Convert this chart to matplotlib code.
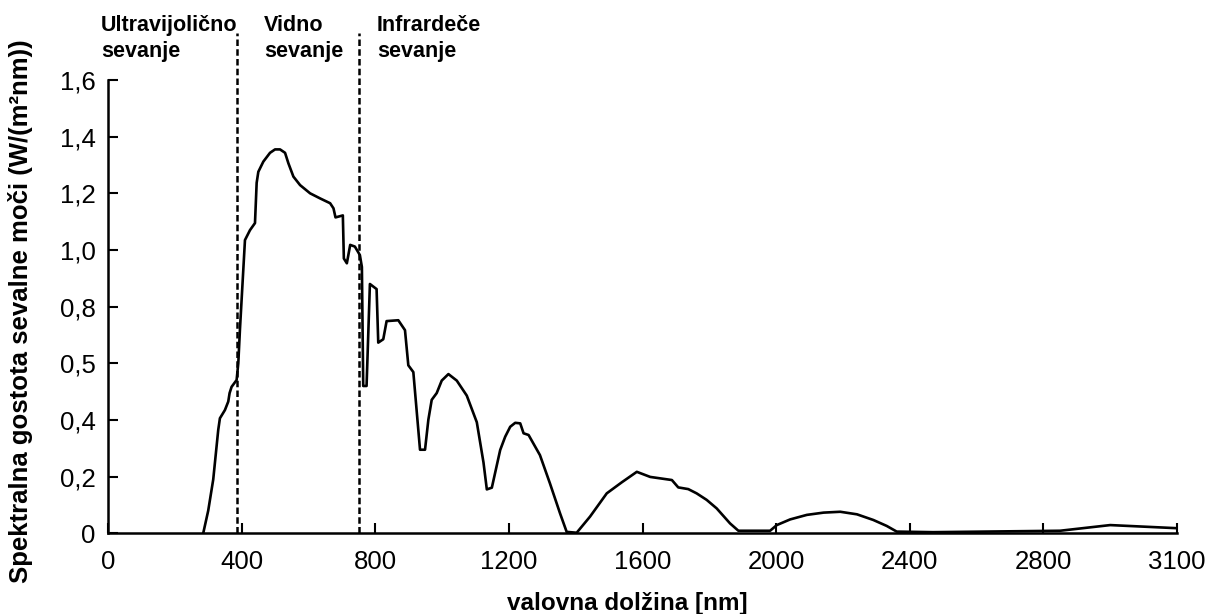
import matplotlib
matplotlib.use("Agg")
import matplotlib.pyplot as plt

plt.rcParams['font.family'] = ['Liberation Sans', 'DejaVu Sans']

# wavelength positions on the axis [nm] and spectral irradiance [W/(m^2 nm)]
wavelength = [285, 300, 315, 330, 335, 350, 360, 364, 370, 385, 390, 395, 410, 425, 440,
              445, 450, 465, 485, 500, 515, 530, 540, 555, 575, 605, 635, 665, 675, 681,
              703, 706, 715, 725, 739, 754, 760, 764, 774, 784, 804, 809, 824, 834, 869,
              889, 899, 914, 934, 949, 959, 969, 984, 999, 1019, 1044, 1074, 1104, 1124,
              1134, 1149, 1174, 1189, 1204, 1219, 1234, 1244, 1259, 1293, 1323, 1353,
              1373, 1403, 1443, 1493, 1538, 1583, 1623, 1688, 1707, 1737, 1762, 1792,
              1822, 1862, 1887, 1982, 2002, 2042, 2092, 2142, 2192, 2242, 2291, 2331,
              2361, 2470, 2850, 3000, 3200]
irradiance = [0.0, 0.08, 0.19, 0.365, 0.406, 0.435, 0.465, 0.495, 0.517, 0.541, 0.60,
              0.72, 1.035, 1.07, 1.095, 1.237, 1.276, 1.312, 1.343, 1.355, 1.355, 1.343,
              1.306, 1.259, 1.229, 1.2, 1.182, 1.165, 1.147, 1.115, 1.122, 0.97, 0.953,
              1.018, 1.012, 0.982, 0.94, 0.52, 0.52, 0.88, 0.862, 0.673, 0.685, 0.749,
              0.752, 0.717, 0.593, 0.569, 0.295, 0.295, 0.401, 0.471, 0.495, 0.539, 0.562,
              0.539, 0.486, 0.392, 0.25, 0.155, 0.161, 0.294, 0.341, 0.376, 0.39, 0.388,
              0.353, 0.347, 0.276, 0.176, 0.071, 0.005, 0.002, 0.059, 0.141, 0.18, 0.217,
              0.199, 0.188, 0.162, 0.156, 0.141, 0.118, 0.088, 0.035, 0.009, 0.009, 0.029,
              0.049, 0.065, 0.073, 0.076, 0.067, 0.047, 0.026, 0.006, 0.004, 0.009, 0.029,
              0.018]

boundaries = [385, 752]
region_labels = ["Ultravijolično\nsevanje", "Vidno\nsevanje", "Infrardeče\nsevanje"]
region_label_x = [101, 264, 377]  # pixel positions of label left edges

x_ticks = [0, 400, 800, 1200, 1600, 2000, 2400, 2800, 3200]
x_tick_labels = ["0", "400", "800", "1200", "1600", "2000", "2400", "2800", "3100"]
y_ticks = [0, 0.2, 0.4, 0.6, 0.8, 1.0, 1.2, 1.4, 1.6]
y_tick_labels = ["0", "0,2", "0,4", "0,5", "0,8", "1,0", "1,2", "1,4", "1,6"]

W, H = 1206, 614
fig = plt.figure(figsize=(W / 100, H / 100), dpi=100)
ax_left, ax_right, ax_bottom, ax_top = 108, 1177, 533.3, 80
ax = fig.add_axes([ax_left / W, 1 - ax_bottom / H, (ax_right - ax_left) / W,
                   (ax_bottom - ax_top) / H])

ax.plot(wavelength, irradiance, color='black', lw=1.9, solid_joinstyle='round')

for b in boundaries:
    ax.plot([b, b], [0, 1.766], color='black', lw=1.8, dashes=(2.6, 1.3), clip_on=False)

ax.set_xlim(0, 3200)
ax.set_ylim(0, 1.6)
ax.set_xticks(x_ticks)
ax.set_xticklabels(x_tick_labels)
ax.set_yticks(y_ticks)
ax.set_yticklabels(y_tick_labels)
ax.tick_params(direction='in', length=7, width=1.5, labelsize=18.5, colors='black')
ax.tick_params(axis='x', pad=12)
ax.tick_params(axis='y', pad=9)
for s in ['top', 'right']:
    ax.spines[s].set_visible(False)
for s in ['left', 'bottom']:
    ax.spines[s].set_linewidth(1.8)

ax.set_xlabel("valovna dolžina [nm]", fontsize=17.5, fontweight='bold')
ax.xaxis.set_label_coords((627 - ax_left) / (ax_right - ax_left),
                          (ax_bottom - 592) / (ax_bottom - ax_top))
ax.set_ylabel("Spektralna gostota sevalne moči (W/(m²nm))", fontsize=18.5,
              fontweight='bold')
ax.yaxis.label.set_verticalalignment('center')
ax.yaxis.set_label_coords((21 - ax_left) / (ax_right - ax_left),
                          (ax_bottom - 311) / (ax_bottom - ax_top))

for lbl, px in zip(region_labels, region_label_x):
    fig.text(px / W, 1 - 15 / H, lbl, fontsize=15.5, fontweight='bold', va='top',
             ha='left', linespacing=1.3)

fig.savefig("out.png", dpi=100)
